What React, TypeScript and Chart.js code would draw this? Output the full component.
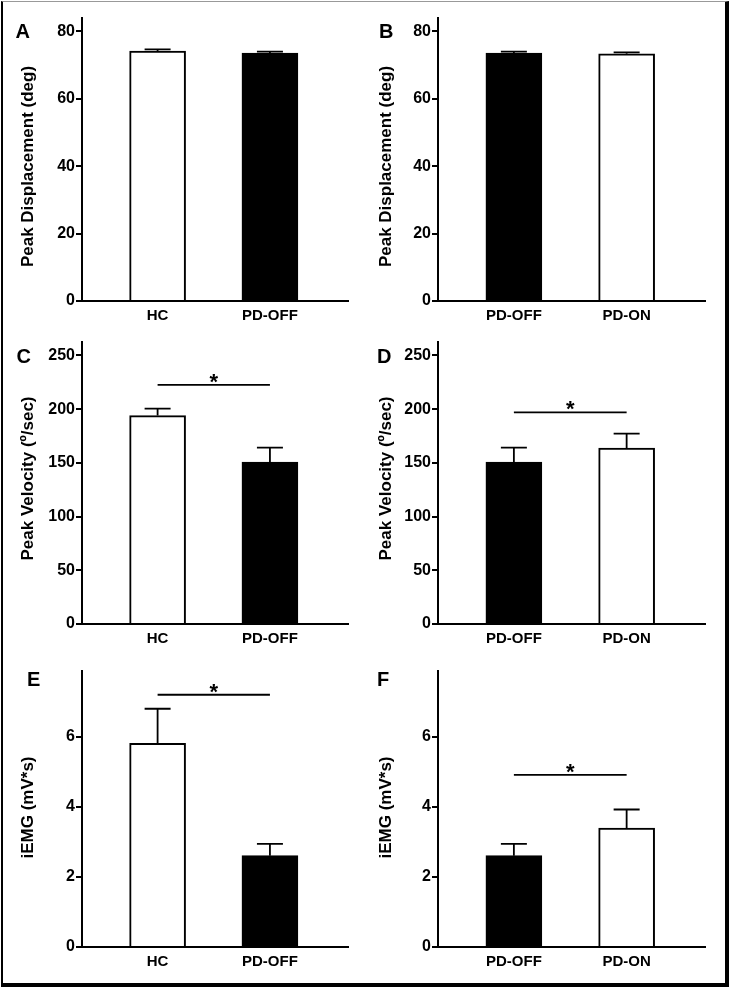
import React, { useEffect, useRef } from "react";
import { Chart, registerables } from "chart.js";

Chart.register(...registerables);

// ---------- data ----------
const groupsHC = ["HC", "PD-OFF"];
const groupsPD = ["PD-OFF", "PD-ON"];

const dispHC = [74.2, 73.6];
const dispHCErr = [0.5, 0.4];
const dispPD = [73.6, 73.4];
const dispPDErr = [0.4, 0.4];

const velHC = [194.0, 150.7];
const velHCErr = [6.5, 13.4];
const velPD = [150.7, 163.8];
const velPDErr = [13.4, 13.4];

const emgHC = [5.82, 2.61];
const emgHCErr = [0.99, 0.34];
const emgPD = [2.61, 3.4];
const emgPDErr = [0.34, 0.53];

const dispTicks = [0, 20, 40, 60, 80];
const velTicks = [0, 50, 100, 150, 200, 250];
const emgTicks = [0, 2, 4, 6];

const dispMax = 84;
const velMax = 262.5;
const emgMax = 7.9;

const sigVelHC = 222.6;
const sigVelPD = 197;
const sigEmgHC = 7.21;
const sigEmgPD = 4.92;

// ---------- layout ----------
const FONT = '"Liberation Sans", Arial, Helvetica, sans-serif';
const WHITE = "#ffffff";
const BLACK = "#000000";

const rowTop = [0, 330, 660];
const rowHeight = [330, 330, 331];
const areaTop = [18, 342, 665];
const areaBottom = [301, 624, 947];
const areaLeft = [82, 438];
const areaRight = [348, 705];
const titleCenterY = [166.5, 478.5, 807.5];
const titleCenterX = [28.7, 386];
const Y_AXIS_W = 82;

type Panel = {
  letter: string;
  letterX: number;
  letterBase: number;
  row: number;
  col: number;
  cats: string[];
  means: number[];
  errs: number[];
  fills: string[];
  ticks: number[];
  max: number;
  title: string;
  sig: number | null;
};

const panels: Panel[] = [
  { letter: "A", letterX: 15.5, letterBase: 37.5, row: 0, col: 0, cats: groupsHC, means: dispHC, errs: dispHCErr, fills: [WHITE, BLACK], ticks: dispTicks, max: dispMax, title: "Peak Displacement (deg)", sig: null },
  { letter: "B", letterX: 379, letterBase: 37.5, row: 0, col: 1, cats: groupsPD, means: dispPD, errs: dispPDErr, fills: [BLACK, WHITE], ticks: dispTicks, max: dispMax, title: "Peak Displacement (deg)", sig: null },
  { letter: "C", letterX: 16.5, letterBase: 363, row: 1, col: 0, cats: groupsHC, means: velHC, errs: velHCErr, fills: [WHITE, BLACK], ticks: velTicks, max: velMax, title: "Peak Velocity (º/sec)", sig: sigVelHC },
  { letter: "D", letterX: 377, letterBase: 363, row: 1, col: 1, cats: groupsPD, means: velPD, errs: velPDErr, fills: [BLACK, WHITE], ticks: velTicks, max: velMax, title: "Peak Velocity (º/sec)", sig: sigVelPD },
  { letter: "E", letterX: 27, letterBase: 686, row: 2, col: 0, cats: groupsHC, means: emgHC, errs: emgHCErr, fills: [WHITE, BLACK], ticks: emgTicks, max: emgMax, title: "iEMG (mV*s)", sig: sigEmgHC },
  { letter: "F", letterX: 377, letterBase: 686, row: 2, col: 1, cats: groupsPD, means: emgPD, errs: emgPDErr, fills: [BLACK, WHITE], ticks: emgTicks, max: emgMax, title: "iEMG (mV*s)", sig: sigEmgPD },
];

function PanelChart({ p }: { p: Panel }) {
  const ref = useRef<HTMLCanvasElement | null>(null);
  const canvasLeft = areaLeft[p.col] - Y_AXIS_W;
  const canvasTop = rowTop[p.row];
  const canvasW = p.col === 0 ? 365 : 731 - canvasLeft;
  const canvasH = rowHeight[p.row];

  useEffect(() => {
    if (!ref.current) return;
    const overlay = {
      id: "overlay",
      afterDatasetsDraw(chart: any) {
        const ctx = chart.ctx;
        const xs = chart.scales.x;
        const ys = chart.scales.y;
        ctx.save();
        ctx.strokeStyle = BLACK;
        ctx.fillStyle = BLACK;
        ctx.lineWidth = 1.8;
        // error bars (upper half only)
        p.means.forEach((m, i) => {
          const x = xs.getPixelForValue(i + 1);
          const y0 = ys.getPixelForValue(m);
          const y1 = ys.getPixelForValue(m + p.errs[i]);
          ctx.beginPath();
          ctx.moveTo(x, y0);
          ctx.lineTo(x, y1);
          ctx.moveTo(x - 13, y1);
          ctx.lineTo(x + 13, y1);
          ctx.stroke();
        });
        // significance bracket
        if (p.sig !== null) {
          const xa = xs.getPixelForValue(1);
          const xb = xs.getPixelForValue(2);
          const y = ys.getPixelForValue(p.sig);
          ctx.beginPath();
          ctx.moveTo(xa, y);
          ctx.lineTo(xb, y);
          ctx.stroke();
          ctx.font = `bold 22px ${FONT}`;
          ctx.textAlign = "center";
          ctx.textBaseline = "alphabetic";
          ctx.fillText("*", (xa + xb) / 2, y + 4);
        }
        // y axis title
        ctx.save();
        ctx.translate(titleCenterX[p.col] - canvasLeft, titleCenterY[p.row] - canvasTop);
        ctx.rotate(-Math.PI / 2);
        ctx.font = `bold 17px ${FONT}`;
        ctx.textAlign = "center";
        ctx.textBaseline = "middle";
        ctx.fillText(p.title, 0, 0);
        ctx.restore();
        // panel letter
        ctx.font = `bold 20px ${FONT}`;
        ctx.textAlign = "left";
        ctx.textBaseline = "alphabetic";
        ctx.fillText(p.letter, p.letterX - canvasLeft, p.letterBase - canvasTop);
        ctx.restore();
      },
    };

    const chart = new Chart(ref.current, {
      type: "bar",
      data: {
        datasets: [
          {
            data: p.means.map((m, i) => ({ x: i + 1, y: m })),
            backgroundColor: p.fills,
            borderColor: BLACK,
            borderWidth: 2,
            barThickness: 56,
          } as any,
        ],
      },
      options: {
        animation: false,
        responsive: false,
        maintainAspectRatio: false,
        devicePixelRatio: 1,
        events: [],
        layout: {
          padding: {
            left: 0,
            top: areaTop[p.row] - canvasTop,
            right: canvasLeft + canvasW - areaRight[p.col],
            bottom: 0,
          },
        },
        plugins: {
          legend: { display: false },
          tooltip: { enabled: false },
          title: { display: false },
        },
        scales: {
          x: {
            type: "linear",
            offset: false,
            min: 0.327,
            max: 2.695,
            afterBuildTicks: (s: any) => {
              s.ticks = [{ value: 1 }, { value: 2 }];
            },
            afterFit: (s: any) => {
              s.height = canvasTop + canvasH - areaBottom[p.row];
            },
            grid: { display: false, drawTicks: false, offset: false },
            border: { display: true, color: BLACK, width: 2 },
            ticks: {
              autoSkip: false,
              maxRotation: 0,
              padding: 6,
              color: BLACK,
              font: { family: FONT, size: 15, weight: "bold" },
              callback: (v: any) => p.cats[Math.round(Number(v)) - 1] ?? "",
            },
          },
          y: {
            type: "linear",
            min: 0,
            max: p.max,
            afterBuildTicks: (s: any) => {
              s.ticks = p.ticks.map((v) => ({ value: v }));
            },
            afterFit: (s: any) => {
              s.width = Y_AXIS_W;
            },
            grid: {
              drawOnChartArea: false,
              drawTicks: true,
              tickLength: 6,
              color: BLACK,
              lineWidth: 2,
            },
            border: { display: true, color: BLACK, width: 2 },
            ticks: {
              padding: 1,
              color: BLACK,
              font: { family: FONT, size: 16, weight: "bold" },
            },
            title: { display: false },
          },
        },
      } as any,
      plugins: [overlay],
    });
    return () => chart.destroy();
  }, []);

  return (
    <canvas
      ref={ref}
      width={canvasW}
      height={canvasH}
      style={{
        position: "absolute",
        left: canvasLeft,
        top: canvasTop,
        width: canvasW,
        height: canvasH,
      }}
    />
  );
}

export default function App() {
  return (
    <div
      style={{
        position: "absolute",
        left: 0,
        top: 0,
        width: 731,
        height: 991,
        background: "#ffffff",
        overflow: "hidden",
      }}
    >
      <div
        style={{
          position: "absolute",
          left: 1,
          top: 1,
          width: 728,
          height: 986,
          boxSizing: "border-box",
          borderLeft: "2px solid #000",
          borderTop: "1px solid #999",
          borderRight: "4px solid #000",
          borderBottom: "4px solid #000",
        }}
      />
      {panels.map((p) => (
        <PanelChart key={p.letter} p={p} />
      ))}
    </div>
  );
}
